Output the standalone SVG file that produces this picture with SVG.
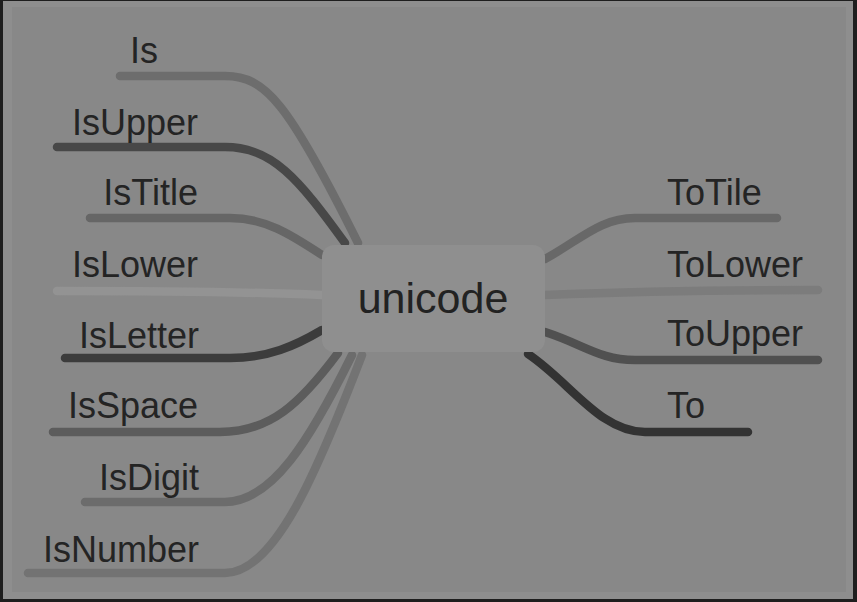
<svg xmlns="http://www.w3.org/2000/svg" width="857" height="602" viewBox="0 0 857 602">
<style>
.lbl{font-family:"Liberation Sans",Arial,sans-serif;font-size:36px;fill:#242424}
.end{text-anchor:end}
.ln{fill:none;stroke-width:8.5;stroke-linecap:round}
</style>
<rect x="0" y="0" width="857" height="602" fill="#1e1e1e"/>
<rect x="3" y="1" width="850" height="598" fill="#8e8e8e"/>
<rect x="12" y="7" width="834" height="585" fill="#888888"/>
<g id="connectors">
<path class="ln" stroke="#6d6d6d" d="M120,76 H225 C265,76 288,102 358,243"/>
<path class="ln" stroke="#484848" d="M57,147 H225 C272,147 298,178 345,243"/>
<path class="ln" stroke="#666666" d="M90,218 H230 C265,218 290,234 322,255"/>
<path class="ln" stroke="#939393" d="M57,291 C150,291 250,292 322,295"/>
<path class="ln" stroke="#3c3c3c" d="M65,358 H230 C268,358 295,346 322,330"/>
<path class="ln" stroke="#5c5c5c" d="M53,432 H220 C270,432 300,404 338,353"/>
<path class="ln" stroke="#6c6c6c" d="M85,502 H225 C272,502 310,440 352,355"/>
<path class="ln" stroke="#737373" d="M28,573 H225 C275,573 318,470 362,355"/>
<path class="ln" stroke="#686868" d="M545,259 C580,240 600,218 635,218 H777"/>
<path class="ln" stroke="#7c7c7c" d="M545,295 C620,292 700,290 818,290"/>
<path class="ln" stroke="#505050" d="M545,332 C585,345 600,360 635,360 H818"/>
<path class="ln" stroke="#333333" d="M528,354 C570,382 600,432 645,432 H748"/>
</g>
<g id="unicode">
<rect x="322" y="245" width="223" height="107" rx="12" fill="#8f8f8f"/>
<text x="433" y="313" text-anchor="middle" style="font-family:'Liberation Sans',Arial,sans-serif;font-size:43px;fill:#222222">unicode</text>
</g>
<g id="Is"><text class="lbl" x="130" y="63">Is</text></g>
<g id="IsUpper"><text class="lbl end" x="198" y="135">IsUpper</text></g>
<g id="IsTitle"><text class="lbl end" x="198" y="205">IsTitle</text></g>
<g id="IsLower"><text class="lbl end" x="198" y="277">IsLower</text></g>
<g id="IsLetter"><text class="lbl end" x="199" y="348">IsLetter</text></g>
<g id="IsSpace"><text class="lbl end" x="198" y="418">IsSpace</text></g>
<g id="IsDigit"><text class="lbl end" x="199" y="490">IsDigit</text></g>
<g id="IsNumber"><text class="lbl end" x="199" y="562">IsNumber</text></g>
<g id="ToTile"><text class="lbl" x="667" y="205">ToTile</text></g>
<g id="ToLower"><text class="lbl" x="667" y="277">ToLower</text></g>
<g id="ToUpper"><text class="lbl" x="667" y="346">ToUpper</text></g>
<g id="To"><text class="lbl" x="667" y="418">To</text></g>
</svg>
